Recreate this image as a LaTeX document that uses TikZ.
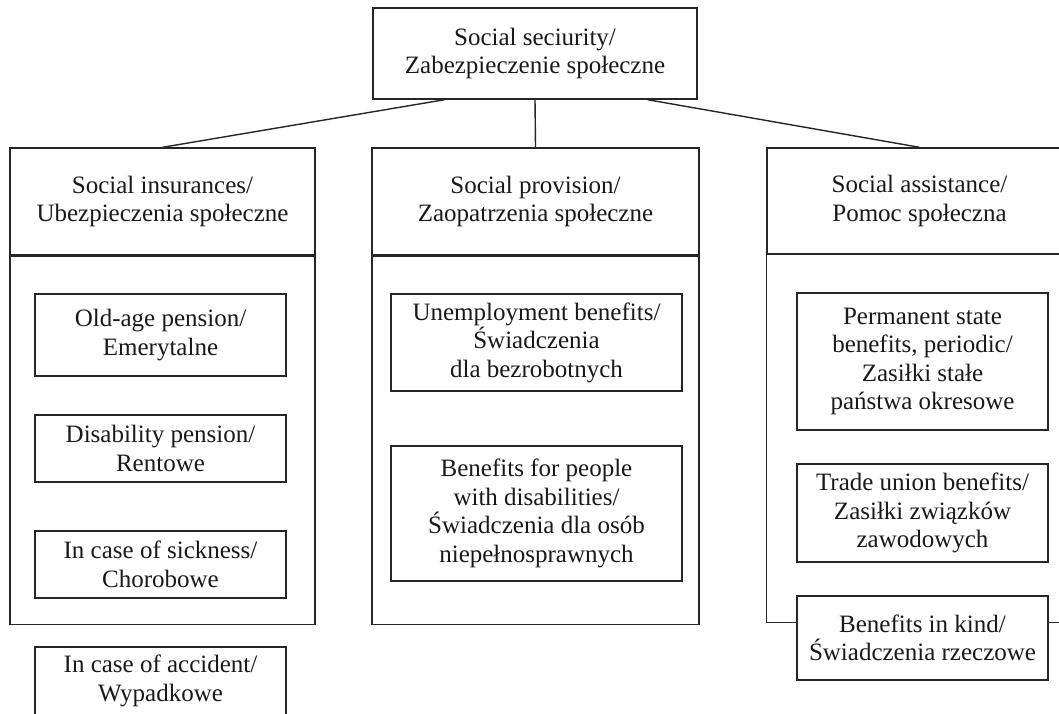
\documentclass[tikz,border=0pt]{standalone}
\usepackage{fontspec}
\setmainfont{Liberation Serif}
\usetikzlibrary{calc}
\tikzset{
  box/.style={draw=black!85, line width=1.4pt, align=center, inner sep=0pt,
    text=black!90, font=\fontsize{25}{28.5}\selectfont},
  conn/.style={draw=black!85, line width=1.4pt}
}
\begin{document}
\begin{tikzpicture}[x=1pt,y=-1pt]
\useasboundingbox (0,0) rectangle (1059,713);
\clip (0,0) rectangle (1059,713);
% top
\node[box, minimum width=324, minimum height=91] (top) at (535,53.5)
  {Social seciurity/\\Zabezpieczenie społeczne};
% headers
\node[box, minimum width=305, minimum height=107] (ins) at (162.5,201.5)
  {Social insurances/\\Ubezpieczenia społeczne};
\node[box, minimum width=327, minimum height=107] (prov) at (535.5,201.5)
  {Social provision/\\Zaopatrzenia społeczne};
\node[box, minimum width=305, minimum height=106] (assist) at (919.5,201)
  {Social assistance/\\Pomoc społeczna};
% bodies
\node[box, minimum width=305, minimum height=368, anchor=north] (insbody) at (ins.south) {};
\node[box, minimum width=327, minimum height=368, anchor=north] (provbody) at (prov.south) {};
% left column items
\node[box, minimum width=251, minimum height=82] (old) at (160.5,335)
  {Old-age pension/\\Emerytalne};
\node[box, minimum width=251, minimum height=67] (disab) at (160.5,448.5)
  {Disability pension/\\Rentowe};
\node[box, minimum width=251, minimum height=67] (sick) at (160.5,564.5)
  {In case of sickness/\\Chorobowe};
\node[box, minimum width=251, minimum height=68] (acc) at (160.5,681)
  {In case of accident/\\Wypadkowe};
% middle column items
\node[box, minimum width=291, minimum height=97] (unemp) at (536.5,342.5)
  {Unemployment benefits/\\Świadczenia\\dla bezrobotnych};
\node[box, minimum width=291, minimum height=135] (dispeople) at (536.5,513.5)
  {Benefits for people\\with disabilities/\\Świadczenia dla osób\\niepełnosprawnych};
% right column items
\node[box, minimum width=251, minimum height=137] (perm) at (922.5,361.5)
  {Permanent state\\benefits, periodic/\\Zasiłki stałe\\państwa okresowe};
\node[box, minimum width=251, minimum height=98] (trade) at (922.5,513)
  {Trade union benefits/\\Zasiłki związków\\zawodowych};
\node[box, minimum width=251, minimum height=84] (kind) at (922.5,638)
  {Benefits in kind/\\Świadczenia rzeczowe};
% right body sides
\coordinate (rbl) at ($(assist.south west)+(0,368)$);
\coordinate (rbr) at ($(assist.south east)+(0,368)$);
\draw[conn] (assist.south west) -- (rbl) -- (rbl -| kind.west);
\draw[conn] (rbr -| kind.east) -- (rbr) -- (assist.south east);
% connectors
\draw[conn] ($(top.south west)!0.222!(top.south east)$) -- (ins.north);
\draw[conn] (top.south) -- (prov.north);
\draw[conn] ($(top.south west)!0.846!(top.south east)$) -- (assist.north);
\end{tikzpicture}
\end{document}
